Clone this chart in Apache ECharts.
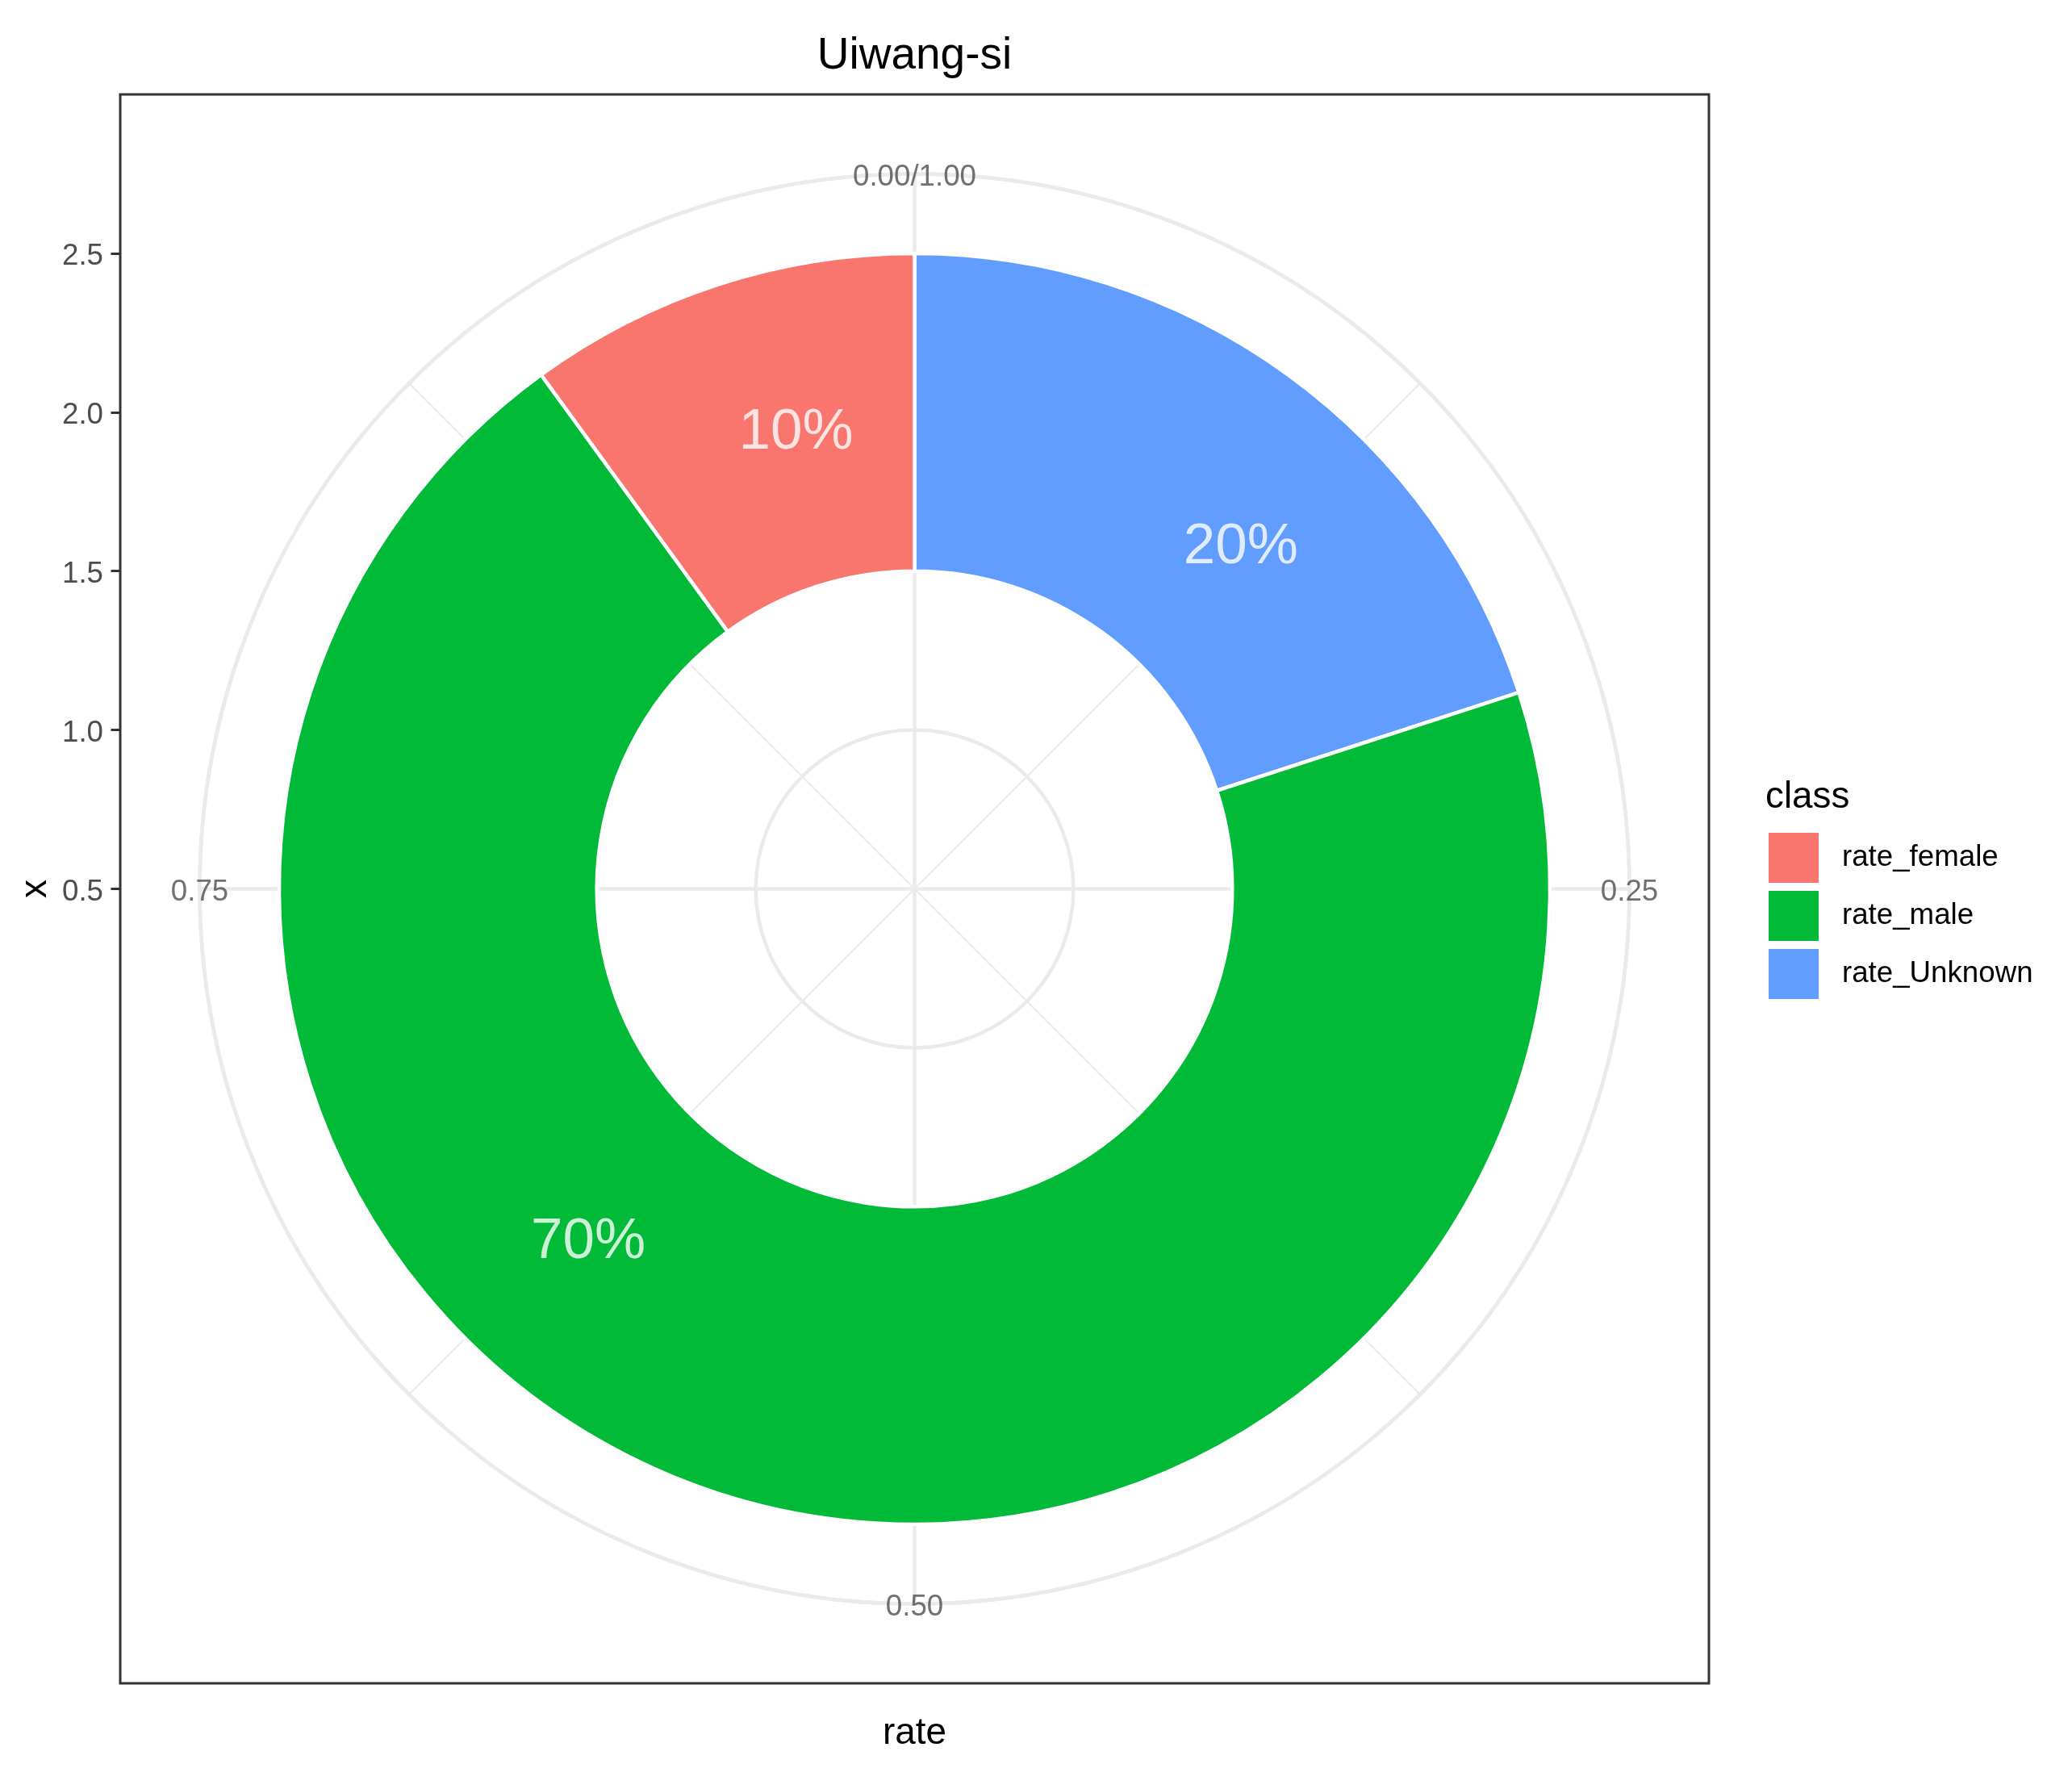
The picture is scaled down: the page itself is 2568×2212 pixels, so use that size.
<!DOCTYPE html>
<html>
<head>
<meta charset="utf-8">
<title>Uiwang-si</title>
<script src="https://cdn.jsdelivr.net/npm/echarts@6/dist/echarts.min.js"></script>
<style>
  html, body { margin: 0; padding: 0; background: #fff; }
  #chart { width: 2568px; height: 2212px; }
</style>
</head>
<body>
<div id="chart"></div>
<script>
// ---- data ----
const classes = ['rate_female', 'rate_male', 'rate_Unknown'];
const rates = [0.1, 0.7, 0.2];
const pctLabels = ['10%', '70%', '20%'];
const pctLabelTheta = [0.96, 0.62, 0.12];   // theta position of each % label
const ringX = 2;                            // radial (x) position of the ring
const angleTicks = [0, 0.25, 0.5, 0.75];
const angleTickLabels = ['0.00/1.00', '0.25', '0.50', '0.75'];
const radialTicks = [0.5, 1.0, 1.5, 2.0, 2.5];

// ---- look ----
const colors = ['#F8766D', '#00BA38', '#619CFF'];
const stackOrder = [2, 1, 0];   // Unknown first, clockwise from the top
const FONT = '"Liberation Sans", Arial, sans-serif';
const cx = 1133.5, cy = 1101.5, R = 886;  // panel centre / outer grid radius
const rMin = 0.5, rMax = 2.75;
const rOf = v => (v - rMin) / (rMax - rMin) * R;
const gridColor = '#ebebeb';

const chart = echarts.init(document.getElementById('chart'), null, { renderer: 'canvas' });

const barSeries = stackOrder.map(i => ({
  name: classes[i],
  type: 'bar',
  coordinateSystem: 'polar',
  polarIndex: 1,
  stack: 'rate',
  barWidth: '100%',
  data: [rates[i]],
  itemStyle: { color: colors[i], borderColor: '#fff', borderWidth: 4.5 },
  emphasis: { disabled: true },
  z: 3
}));

const option = {
  backgroundColor: '#fff',
  animation: false,
  textStyle: { fontFamily: FONT },
  polar: [
    { center: [cx, cy], radius: [0, R] },
    { center: [cx, cy], radius: [rOf(ringX - 0.5), rOf(ringX + 0.5)] }
  ],
  angleAxis: [
    {
      polarIndex: 0, type: 'value', min: 0, max: 1, interval: 0.25,
      startAngle: 90, clockwise: true,
      axisLine: { show: true, lineStyle: { color: gridColor, width: 4.5 } },
      axisTick: { show: false },
      axisLabel: { show: false },
      splitLine: { show: true, lineStyle: { color: gridColor, width: 4.5 } },
      minorTick: { show: false, splitNumber: 2 },
      minorSplitLine: { show: true, lineStyle: { color: gridColor, width: 2.2 } }
    },
    {
      polarIndex: 1, type: 'value', min: 0, max: 1,
      startAngle: 90, clockwise: true, show: false
    }
  ],
  radiusAxis: [
    {
      polarIndex: 0, type: 'value', min: rMin, max: rMax, interval: 0.5,
      axisLine: { show: false }, axisTick: { show: false }, axisLabel: { show: false },
      splitLine: { show: true, lineStyle: { color: gridColor, width: 4.5 } }
    },
    {
      polarIndex: 1, type: 'category', data: [String(ringX)], show: false
    }
  ],
  grid: { left: 149, top: cy - rOf(2.5), width: 1969, height: rOf(2.5) },
  xAxis: { type: 'value', show: false },
  yAxis: {
    type: 'value', min: radialTicks[0], max: radialTicks[radialTicks.length - 1], interval: 0.5,
    axisLine: { show: false },
    axisTick: { show: true, length: 11.5, lineStyle: { color: '#333', width: 3 } },
    axisLabel: {
      margin: 21,
      formatter: v => '{t|' + v.toFixed(1) + '}',
      rich: { t: { color: '#4d4d4d', fontSize: 36.7, fontFamily: FONT, padding: [8, 0, 0, 0] } }
    },
    splitLine: { show: false }
  },
  legend: {
    data: classes,
    orient: 'vertical',
    left: 2192, top: 1032,
    padding: 0,
    itemWidth: 62, itemHeight: 62, itemGap: 10,
    icon: 'rect',
    itemStyle: { borderWidth: 0 },
    selectedMode: false,
    textStyle: { fontSize: 36.7, color: '#000', fontFamily: FONT, padding: [6, 0, 0, 24] }
  },
  graphic: [
    { type: 'rect', z: 100, silent: true,
      shape: { x: 149, y: 117, width: 1969, height: 1969 },
      style: { fill: null, stroke: '#333', lineWidth: 3 } },
    { type: 'text', x: cx, y: 70, silent: true,
      style: { text: 'Uiwang-si', fill: '#000', font: '55px ' + FONT, align: 'center', verticalAlign: 'middle' } },
    { type: 'text', x: cx, y: 2148, silent: true,
      style: { text: 'rate', fill: '#000', font: '45.8px ' + FONT, align: 'center', verticalAlign: 'middle' } },
    { type: 'text', x: 44, y: cy, rotation: Math.PI / 2, silent: true,
      style: { text: 'x', fill: '#000', font: '45.8px ' + FONT, align: 'center', verticalAlign: 'middle' } },
    { type: 'text', x: 2188, y: 988, silent: true,
      style: { text: 'class', fill: '#000', font: '45.8px ' + FONT, align: 'left', verticalAlign: 'middle' } }
  ],
  series: [
    ...barSeries,
    {
      type: 'scatter', coordinateSystem: 'polar', polarIndex: 0,
      symbolSize: 0.1, itemStyle: { color: 'rgba(0,0,0,0)' },
      silent: true, z: 10,
      data: pctLabels.map((t, i) => ({ value: [ringX, pctLabelTheta[i]], name: t })),
      label: {
        show: true, position: 'inside', formatter: p => p.name, offset: [0, 7],
        color: '#fff', fontSize: 71, fontFamily: FONT
      }
    },
    {
      type: 'scatter', coordinateSystem: 'polar', polarIndex: 0,
      symbolSize: 0.1, itemStyle: { color: 'rgba(0,0,0,0)' },
      silent: true, z: 10,
      data: angleTicks.map((a, i) => ({ value: [rMax, a], name: angleTickLabels[i] })),
      label: {
        show: true, position: 'inside', formatter: p => p.name, offset: [0, 4],
        color: '#4d4d4d', fontSize: 36.7, fontFamily: FONT
      }
    }
  ]
};

chart.setOption(option);
</script>
</body>
</html>
